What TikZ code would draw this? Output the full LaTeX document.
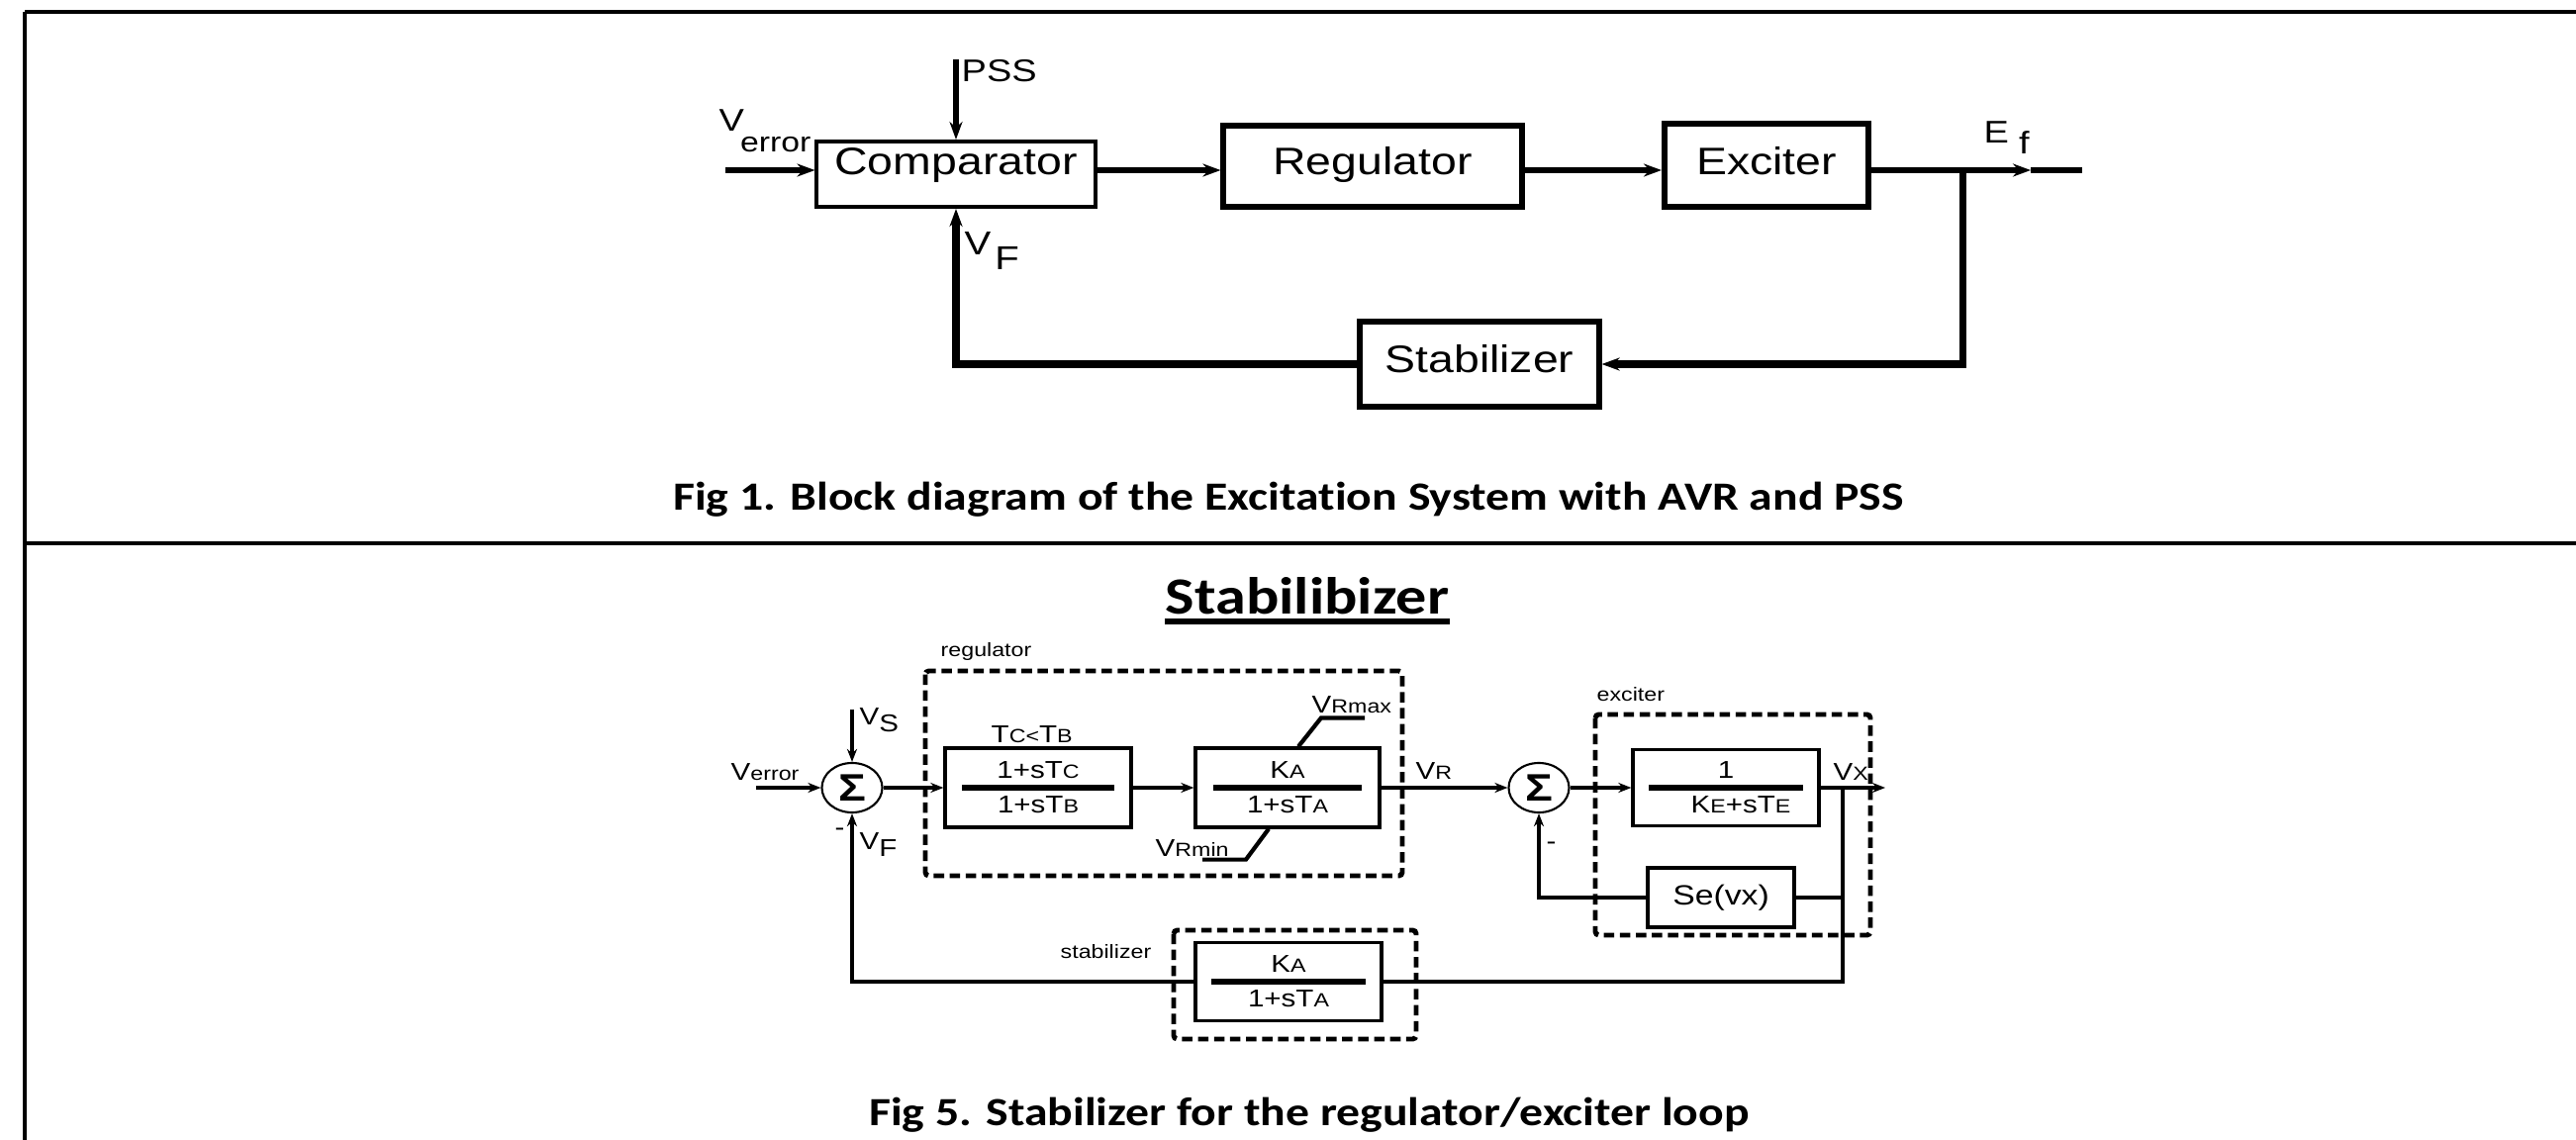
\documentclass[tikz,border=0pt]{standalone}
\usepackage{fontspec}
\usepackage{amsmath}
\usetikzlibrary{arrows.meta,shapes.geometric,positioning}
\newfontfamily\diagfont[FakeStretch=1.2]{Liberation Sans}
\newfontfamily\capfont[FakeStretch=1.18,Ligatures=NoCommon]{Carlito}
\newcommand{\subcap}[1]{{\fontsize{5.5}{5.5}\selectfont #1}}
\newcommand{\blkfrac}[3]{$\genfrac{}{}{1.7pt}{1}{\makebox[#1]{#2}}{\makebox[#1]{#3}}$}

\tikzset{
  frame/.style={line width=0.9pt},
  topbox/.style={draw, line width=1.7pt, inner sep=0pt, text height=0.28cm, font=\diagfont\fontsize{11}{11}\selectfont},
  topline/.style={line width=1.5pt},
  toparr/.style={topline, -{Stealth[length=0.18cm,width=0.13cm]}},
  toplbl/.style={inner sep=0pt, anchor=base west, font=\diagfont\fontsize{9}{9}\selectfont},
  blk/.style={draw, line width=0.9pt, inner sep=0pt, font=\diagfont\fontsize{7}{7}\selectfont},
  sumnode/.style={draw, ellipse, line width=0.6pt, minimum width=0.61cm, minimum height=0.5cm, inner sep=0pt, font=\diagfont\bfseries\fontsize{11}{11}\selectfont},
  sig/.style={line width=1.2pt},
  sigarr/.style={sig, -{Stealth[length=0.13cm,width=0.1cm]}},
  lbl/.style={inner sep=0pt, anchor=base west, font=\diagfont\fontsize{7}{7}\selectfont},
  grp/.style={inner sep=0pt, anchor=base west, font=\diagfont\fontsize{5.5}{5.5}\selectfont},
  dbox/.style={line width=1.4pt, dash pattern=on 3pt off 1.6pt, rounded corners=1pt},
  capt/.style={inner sep=0pt, anchor=base, font=\capfont\bfseries\fontsize{11.5}{11.5}\selectfont},
}

\begin{document}
\begin{tikzpicture}[x=0.01cm, y=-0.01cm]
\useasboundingbox (0,0) rectangle (2603,1152);
\fill[white] (0,0) rectangle (2603,1152);
% table frame
\draw[frame] (25,12) -- (2603,12);
\draw[frame] (25,549) -- (2603,549);
\draw[frame, line width=1.3pt] (25,12) -- (25,1152);

% Fig 1: excitation system
\node[topbox, line width=1.1pt, minimum width=2.81cm, minimum height=0.66cm, text depth=0.26cm] (comp) at (966,176) {Comparator};
\node[topbox, minimum width=3.01cm, minimum height=0.81cm, text depth=0.10cm] (reg) at (1387,168) {Regulator};
\node[topbox, minimum width=2.06cm, minimum height=0.83cm, text depth=0.08cm] (exc) at (1785,167) {Exciter};
\node[topbox, minimum width=2.41cm, minimum height=0.85cm, text depth=0.12cm] (stab) at (1495,368) {Stabilizer};
\coordinate (row) at (0,172);
\coordinate (vin) at (733,172);
\coordinate (pss) at (966,60);
\coordinate (br) at (1983,172);
\coordinate (eftip) at (2052,172);
\coordinate (efend) at (2104,172);
\draw[toparr] (vin) -- (vin -| comp.west);
\draw[toparr] (pss) -- (comp.north);
\draw[toparr] (comp.east |- row) -- (reg.west |- row);
\draw[toparr] (reg.east |- row) -- (exc.west |- row);
\draw[toparr] (exc.east |- row) -- (eftip);
\draw[topline] (eftip) -- (efend);
\draw[toparr, line width=2pt] (br) |- (stab.east);
\draw[toparr, line width=2pt] (stab.west) -| (comp.south);
\node[toplbl] (psslbl) at (971,83) {PSS};
\node[toplbl] (verrlbl) at (726,133) {V\kern-0.04cm\raisebox{-0.2cm}{\fontsize{8}{8}\selectfont error}};
\node[toplbl, font=\diagfont\fontsize{9.5}{9.5}\selectfont] (vflbl) at (974,258) {V\kern0.04cm\raisebox{-0.14cm}{F}};
\node[toplbl] (eflbl) at (2004,145) {E\kern0.1cm\raisebox{-0.1cm}{f}};
\node[capt] (cap1) at (1302,515) {Fig 1. Block diagram of the Excitation System with AVR and PSS};

% Fig 5: stabilizer loop
\node[capt, font=\capfont\bfseries\fontsize{15}{15}\selectfont] (ttl) at (1321,620) {Stabilibizer};
\draw[line width=1.7pt] ([yshift=-0.08cm]ttl.base west) -- ([yshift=-0.08cm]ttl.base east);

\node[sumnode] (s1) at (861,796) {Σ};
\node[sumnode] (s2) at (1555,796) {Σ};
\node[blk, minimum width=1.88cm, minimum height=0.80cm] (b1) at (1049,796) {\blkfrac{1.53cm}{1+sT\subcap{C}}{1+sT\subcap{B}}};
\node[blk, minimum width=1.86cm, minimum height=0.80cm] (b2) at (1301,796) {\blkfrac{1.50cm}{K\subcap{A}}{1+sT\subcap{A}}};
\node[blk, minimum width=1.88cm, minimum height=0.77cm] (b3) at (1744,796) {\blkfrac{1.55cm}{1}{\hspace{0.3cm}K\subcap{E}+sT\subcap{E}}};
\node[blk, minimum width=1.48cm, minimum height=0.60cm, font=\diagfont\fontsize{8}{8}\selectfont] (se) at (1739,907) {Se(vx)};
\node[blk, minimum width=1.88cm, minimum height=0.79cm] (sb) at (1302,992) {\blkfrac{1.56cm}{K\subcap{A}}{1+sT\subcap{A}}};

\draw[dbox] (935,678) rectangle (1417,885);
\draw[dbox] (1612,722) rectangle (1890,945);
\draw[dbox] (1186,940) rectangle (1431,1050);

\coordinate (vin2) at (764,796);
\coordinate (vs) at (861,717);
\coordinate (vxout) at (1905,796);
\coordinate (jx) at (1862,796);
\draw[sigarr] (vin2) -- (s1.west);
\draw[sigarr] (vs) -- (s1.north);
\draw[sigarr] (s1.east) -- (b1.west);
\draw[sigarr] (b1.east) -- (b2.west);
\draw[sigarr] (b2.east) -- (s2.west);
\draw[sigarr] (s2.east) -- (b3.west);
\draw[sigarr] (b3.east) -- (vxout);
\draw[sig] (jx) |- (sb.east);
\draw[sig] (se.east) -- (se.east -| jx);
\draw[sigarr] (se.west) -| (s2.south);
\draw[sigarr] (sb.west) -| (s1.south);
\draw[sig] ([xshift=0.11cm]b2.north) -- ++(23,-29) -- ++(44,0);
\draw[sig] ([xshift=-0.19cm]b2.south) -- ++(-23,31) -- ++(-44,0);

\node[grp] (reglbl) at (950,663) {regulator};
\node[grp] (exclbl) at (1613,708) {exciter};
\node[grp] (stablbl) at (1071,968) {stabilizer};
\node[lbl] (verr2) at (738,788) {V\subcap{error}};
\node[lbl] (vslbl) at (868,732) {V\raisebox{-0.07cm}{S}};
\node[lbl] (vf2) at (868,858) {V\raisebox{-0.07cm}{F}};
\node[lbl] (minus1) at (843,844) {-};
\node[lbl] (minus2) at (1562,858) {-};
\node[lbl] (tclbl) at (1001,750) {T\subcap{C<}T\subcap{B}};
\node[lbl] (vrmax) at (1325,720) {V\subcap{Rmax}};
\node[lbl] (vrmin) at (1167,865) {V\subcap{Rmin}};
\node[lbl] (vrlbl) at (1430,787) {V\subcap{R}};
\node[lbl] (vxlbl) at (1852,788) {V\subcap{X}};

\node[capt] (cap5) at (1323,1137) {Fig 5. Stabilizer for the regulator/exciter loop};
\end{tikzpicture}
\end{document}
